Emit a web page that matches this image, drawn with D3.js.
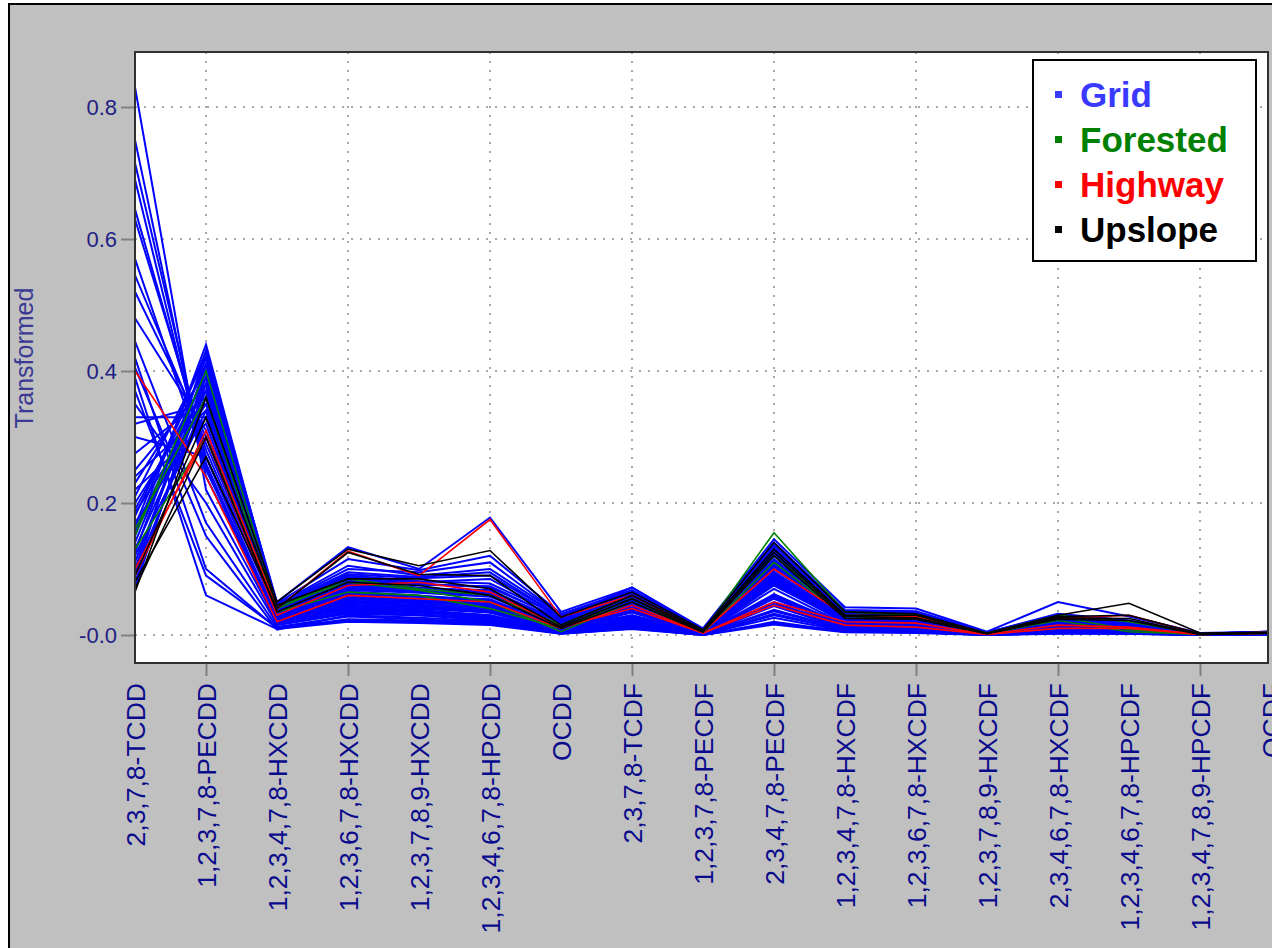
<!DOCTYPE html>
<html lang="en">
<head>
<meta charset="UTF-8">
<title>Congener profiles</title>
<style>
  body { margin: 0; background: #fff; }
  svg { display: block; font-family: Arial, "Liberation Sans", sans-serif; }
  .grid line { stroke: #a8a8a8; stroke-width: 2; stroke-dasharray: 2 7; }
  .ytick { fill: #1e1e84; font-size: 22px; }
  .xlab { fill: #0a0a8c; font-size: 26.5px; }
  .ttl { fill: #3a3a94; font-size: 25px; }
  .prof { fill: none; stroke-linejoin: miter; }
</style>
</head>
<body>
<svg id="chart" width="1272" height="948"></svg>
<script src="https://d3js.org/d3.v7.min.js"></script>
<script>
// --- data ---
const categories = [
  "2,3,7,8-TCDD", "1,2,3,7,8-PECDD", "1,2,3,4,7,8-HXCDD", "1,2,3,6,7,8-HXCDD",
  "1,2,3,7,8,9-HXCDD", "1,2,3,4,6,7,8-HPCDD", "OCDD", "2,3,7,8-TCDF",
  "1,2,3,7,8-PECDF", "2,3,4,7,8-PECDF", "1,2,3,4,7,8-HXCDF", "1,2,3,6,7,8-HXCDF",
  "1,2,3,7,8,9-HXCDF", "2,3,4,6,7,8-HXCDF", "1,2,3,4,6,7,8-HPCDF", "1,2,3,4,7,8,9-HPCDF", "OCDF"
];
const yTicks = [0, 0.2, 0.4, 0.6, 0.8];
const yTickLabels = ["-0.0", "0.2", "0.4", "0.6", "0.8"];
const groups = ["Grid", "Forested", "Highway", "Upslope"];
const groupColors = ["#0000ff", "#008000", "#ff0000", "#000000"];
const legendColors = ["#3a3aff", "#008000", "#ff0000", "#000000"];

const gridProfiles = [
  [0.83,0.22,0.020,0.045,0.040,0.035,0.010,0.030,0.002,0.060,0.015,0.012,0.001,0.010,0.008,0.001,0.002],
  [0.75,0.24,0.030,0.060,0.055,0.045,0.012,0.035,0.003,0.075,0.020,0.016,0.001,0.012,0.010,0.001,0.003],
  [0.715,0.26,0.018,0.040,0.036,0.030,0.006,0.022,0.002,0.045,0.010,0.009,0.000,0.007,0.005,0.000,0.002],
  [0.69,0.25,0.028,0.055,0.050,0.046,0.014,0.040,0.004,0.082,0.021,0.018,0.002,0.015,0.011,0.001,0.003],
  [0.645,0.27,0.022,0.038,0.034,0.026,0.005,0.024,0.001,0.050,0.012,0.010,0.000,0.008,0.005,0.000,0.001],
  [0.63,0.28,0.032,0.066,0.060,0.052,0.013,0.046,0.004,0.092,0.025,0.021,0.002,0.018,0.012,0.001,0.003],
  [0.57,0.255,0.015,0.032,0.030,0.022,0.003,0.016,0.000,0.030,0.008,0.006,0.000,0.004,0.003,0.000,0.001],
  [0.545,0.29,0.036,0.072,0.066,0.060,0.020,0.050,0.005,0.100,0.028,0.024,0.002,0.020,0.014,0.001,0.004],
  [0.52,0.30,0.030,0.060,0.052,0.042,0.010,0.040,0.003,0.086,0.020,0.017,0.001,0.014,0.010,0.000,0.003],
  [0.48,0.31,0.026,0.050,0.046,0.038,0.008,0.034,0.002,0.070,0.016,0.014,0.001,0.011,0.008,0.000,0.002],
  [0.445,0.17,0.012,0.028,0.024,0.018,0.002,0.010,0.000,0.020,0.005,0.004,0.000,0.003,0.002,0.000,0.001],
  [0.42,0.10,0.010,0.024,0.022,0.020,0.003,0.012,0.001,0.026,0.006,0.005,0.000,0.004,0.003,0.000,0.001],
  [0.405,0.15,0.008,0.030,0.026,0.021,0.004,0.014,0.001,0.032,0.008,0.006,0.000,0.005,0.003,0.000,0.001],
  [0.39,0.06,0.009,0.020,0.018,0.015,0.002,0.009,0.000,0.016,0.004,0.003,0.000,0.002,0.002,0.000,0.000],
  [0.37,0.09,0.011,0.022,0.020,0.017,0.003,0.011,0.000,0.018,0.005,0.004,0.000,0.003,0.002,0.000,0.001],
  [0.35,0.20,0.016,0.034,0.030,0.025,0.005,0.018,0.001,0.036,0.009,0.007,0.000,0.006,0.004,0.000,0.001],
  [0.33,0.33,0.040,0.085,0.078,0.072,0.025,0.056,0.006,0.112,0.030,0.028,0.003,0.024,0.016,0.002,0.004],
  [0.32,0.35,0.035,0.078,0.070,0.064,0.020,0.052,0.005,0.105,0.027,0.025,0.002,0.021,0.014,0.001,0.004],
  [0.30,0.27,0.024,0.048,0.044,0.036,0.008,0.030,0.002,0.062,0.015,0.012,0.001,0.010,0.007,0.000,0.002],
  [0.275,0.36,0.042,0.090,0.082,0.078,0.028,0.060,0.007,0.120,0.032,0.030,0.003,0.026,0.018,0.002,0.004],
  [0.25,0.38,0.045,0.100,0.095,0.110,0.030,0.066,0.008,0.132,0.035,0.033,0.004,0.030,0.020,0.002,0.005],
  [0.24,0.34,0.030,0.062,0.058,0.050,0.012,0.044,0.004,0.090,0.022,0.020,0.001,0.016,0.011,0.001,0.003],
  [0.23,0.40,0.048,0.115,0.098,0.120,0.032,0.068,0.009,0.140,0.038,0.036,0.004,0.032,0.022,0.002,0.005],
  [0.22,0.32,0.026,0.052,0.048,0.040,0.009,0.036,0.003,0.078,0.018,0.015,0.001,0.012,0.009,0.000,0.002],
  [0.21,0.42,0.050,0.133,0.100,0.178,0.035,0.072,0.010,0.145,0.042,0.040,0.005,0.050,0.028,0.003,0.005],
  [0.20,0.37,0.038,0.080,0.072,0.066,0.022,0.054,0.005,0.108,0.028,0.026,0.002,0.022,0.015,0.001,0.004],
  [0.19,0.39,0.034,0.074,0.068,0.062,0.018,0.050,0.004,0.100,0.026,0.024,0.002,0.020,0.013,0.001,0.003],
  [0.185,0.35,0.028,0.058,0.054,0.048,0.011,0.042,0.003,0.088,0.021,0.019,0.001,0.015,0.011,0.001,0.003],
  [0.18,0.41,0.044,0.095,0.088,0.095,0.027,0.062,0.007,0.128,0.034,0.031,0.003,0.027,0.019,0.002,0.004],
  [0.17,0.33,0.022,0.044,0.040,0.034,0.007,0.028,0.002,0.058,0.014,0.012,0.001,0.009,0.007,0.000,0.002],
  [0.165,0.43,0.046,0.105,0.090,0.100,0.030,0.064,0.008,0.136,0.036,0.034,0.004,0.028,0.021,0.002,0.005],
  [0.16,0.38,0.036,0.076,0.070,0.068,0.021,0.050,0.005,0.104,0.027,0.025,0.002,0.021,0.015,0.001,0.004],
  [0.155,0.36,0.024,0.046,0.042,0.034,0.006,0.026,0.002,0.055,0.013,0.011,0.001,0.008,0.006,0.000,0.002],
  [0.15,0.44,0.040,0.088,0.080,0.085,0.026,0.072,0.008,0.125,0.030,0.028,0.004,0.030,0.020,0.002,0.004],
  [0.14,0.40,0.032,0.068,0.064,0.058,0.016,0.048,0.004,0.096,0.024,0.022,0.002,0.019,0.013,0.001,0.003],
  [0.13,0.37,0.020,0.040,0.036,0.028,0.004,0.020,0.001,0.044,0.010,0.008,0.000,0.006,0.004,0.000,0.001],
  [0.125,0.42,0.038,0.082,0.076,0.074,0.024,0.058,0.006,0.115,0.030,0.028,0.003,0.024,0.017,0.001,0.004],
  [0.12,0.34,0.018,0.036,0.032,0.024,0.004,0.018,0.001,0.038,0.009,0.007,0.000,0.005,0.004,0.000,0.001],
  [0.11,0.39,0.030,0.064,0.058,0.054,0.014,0.046,0.004,0.094,0.023,0.021,0.002,0.017,0.012,0.001,0.003],
  [0.10,0.41,0.042,0.092,0.086,0.090,0.028,0.060,0.007,0.122,0.033,0.030,0.003,0.026,0.018,0.002,0.004],
  [0.095,0.36,0.026,0.054,0.050,0.044,0.010,0.038,0.003,0.080,0.019,0.017,0.001,0.013,0.010,0.000,0.002],
  [0.09,0.43,0.034,0.070,0.066,0.064,0.018,0.052,0.005,0.110,0.026,0.024,0.002,0.020,0.014,0.001,0.003],
  [0.08,0.38,0.022,0.042,0.038,0.030,0.005,0.024,0.001,0.048,0.011,0.009,0.000,0.007,0.005,0.000,0.001],
  [0.07,0.40,0.028,0.056,0.052,0.046,0.012,0.040,0.003,0.084,0.020,0.018,0.001,0.014,0.010,0.000,0.002]
];
const forestedProfiles = [
  [0.15,0.40,0.040,0.085,0.070,0.060,0.015,0.060,0.005,0.155,0.035,0.030,0.003,0.030,0.020,0.002,0.004],
  [0.16,0.36,0.035,0.065,0.060,0.040,0.010,0.055,0.004,0.120,0.030,0.028,0.002,0.028,0.008,0.001,0.003],
  [0.13,0.30,0.045,0.080,0.068,0.050,0.005,0.050,0.003,0.110,0.028,0.025,0.002,0.022,0.005,0.001,0.003]
];
const highwayProfiles = [
  [0.09,0.31,0.040,0.127,0.090,0.175,0.027,0.060,0.005,0.100,0.030,0.028,0.002,0.025,0.030,0.002,0.004],
  [0.40,0.24,0.020,0.060,0.055,0.050,0.010,0.045,0.003,0.045,0.015,0.012,0.001,0.010,0.010,0.001,0.003],
  [0.10,0.30,0.030,0.075,0.080,0.065,0.012,0.040,0.003,0.050,0.020,0.018,0.001,0.015,0.012,0.001,0.003]
];
const upslopeProfiles = [
  [0.065,0.36,0.050,0.130,0.105,0.128,0.027,0.065,0.008,0.140,0.035,0.032,0.003,0.030,0.048,0.003,0.004],
  [0.08,0.27,0.040,0.125,0.092,0.090,0.015,0.060,0.006,0.130,0.030,0.030,0.002,0.028,0.030,0.002,0.003],
  [0.09,0.33,0.045,0.085,0.085,0.070,0.012,0.055,0.005,0.125,0.028,0.026,0.002,0.026,0.025,0.001,0.003],
  [0.07,0.30,0.035,0.080,0.075,0.060,0.010,0.050,0.004,0.120,0.025,0.024,0.002,0.024,0.022,0.001,0.003]
];
const profilesByGroup = [gridProfiles, forestedProfiles, highwayProfiles, upslopeProfiles];

// --- layout ---
const W = 1272, H = 948;
const plot = { left: 135, top: 52, right: 1268, bottom: 663 };

const svg = d3.select("#chart");

// grey window background with its dark edge
svg.append("rect").attr("x", 9).attr("y", 4).attr("width", W - 9).attr("height", H - 4).attr("fill", "#c0c0c0");
svg.append("path").attr("d", `M9,${H} V4 H${W}`).attr("fill", "none").attr("stroke", "#000").attr("stroke-width", 2);

const x = d3.scalePoint().domain(categories).range([135, 1271]);
const y = d3.scaleLinear().domain([0, 0.8]).range([635, 107]);

svg.append("rect")
  .attr("x", plot.left).attr("y", plot.top)
  .attr("width", plot.right - plot.left).attr("height", plot.bottom - plot.top)
  .attr("fill", "#fff");

svg.append("clipPath").attr("id", "clip")
  .append("rect")
  .attr("x", plot.left).attr("y", plot.top)
  .attr("width", plot.right - plot.left).attr("height", plot.bottom - plot.top);

// dotted grid: every other category, and the y ticks
const gridCats = categories.filter((c, i) => i % 2 === 1);
const grid = svg.append("g").attr("class", "grid").attr("clip-path", "url(#clip)");
grid.selectAll(".gv").data(gridCats).join("line")
  .attr("x1", d => x(d)).attr("x2", d => x(d))
  .attr("y1", plot.top).attr("y2", plot.bottom);
grid.selectAll(".gh").data(yTicks).join("line")
  .attr("x1", plot.left).attr("x2", plot.right)
  .attr("y1", d => y(d)).attr("y2", d => y(d));

// profile lines
const line = d3.line().x((d, i) => x(categories[i])).y(d => y(d));
const lines = svg.append("g").attr("clip-path", "url(#clip)");
profilesByGroup.forEach((profiles, gi) => {
  lines.append("g").selectAll("path").data(profiles).join("path")
    .attr("class", "prof")
    .attr("d", line)
    .attr("stroke", groupColors[gi])
    .attr("stroke-width", gi === 0 ? 2 : 1.6);
});

// frame
svg.append("rect")
  .attr("x", plot.left).attr("y", plot.top)
  .attr("width", plot.right - plot.left).attr("height", plot.bottom - plot.top)
  .attr("fill", "none").attr("stroke", "#303030").attr("stroke-width", 2);

// y axis
const yAxis = svg.append("g")
  .attr("transform", `translate(${plot.left - 1},0)`)
  .call(d3.axisLeft(y).tickValues(yTicks).tickSize(13).tickPadding(4)
    .tickFormat((d, i) => yTickLabels[i]));
yAxis.select(".domain").remove();
yAxis.selectAll(".tick line").attr("stroke", "#808080").attr("stroke-width", 2);
yAxis.selectAll(".tick text").attr("class", "ytick").attr("font-size", null).attr("font-family", null);

svg.append("text")
  .attr("class", "ttl")
  .attr("transform", "translate(33,358) rotate(-90)")
  .attr("text-anchor", "middle")
  .text("Transformed");

// x axis: tick marks on every other category, labels on all
const xAxis = svg.append("g")
  .attr("transform", `translate(0,${plot.bottom + 1})`)
  .call(d3.axisBottom(x).tickValues(gridCats).tickSize(12).tickFormat(""));
xAxis.select(".domain").remove();
xAxis.selectAll(".tick line").attr("stroke", "#808080").attr("stroke-width", 2);

svg.append("g").selectAll("text").data(categories).join("text")
  .attr("class", "xlab")
  .attr("text-anchor", "end")
  .attr("transform", d => `translate(${x(d) + 10},683) rotate(-90)`)
  .text(d => d);

// legend
const lg = svg.append("g").attr("transform", "translate(1033,60)");
lg.append("rect").attr("width", 223).attr("height", 201)
  .attr("fill", "#fff").attr("stroke", "#000").attr("stroke-width", 2);
const rows = lg.selectAll(".row").data(groups).join("g")
  .attr("transform", (d, i) => `translate(0,${47 + i * 45})`);
rows.append("rect").attr("x", 22).attr("y", -16).attr("width", 7).attr("height", 7)
  .attr("fill", (d, i) => legendColors[i]);
rows.append("text").attr("x", 47).attr("y", 0)
  .attr("font-size", 35).attr("font-weight", "bold")
  .attr("fill", (d, i) => legendColors[i])
  .text(d => d);
</script>
</body>
</html>
